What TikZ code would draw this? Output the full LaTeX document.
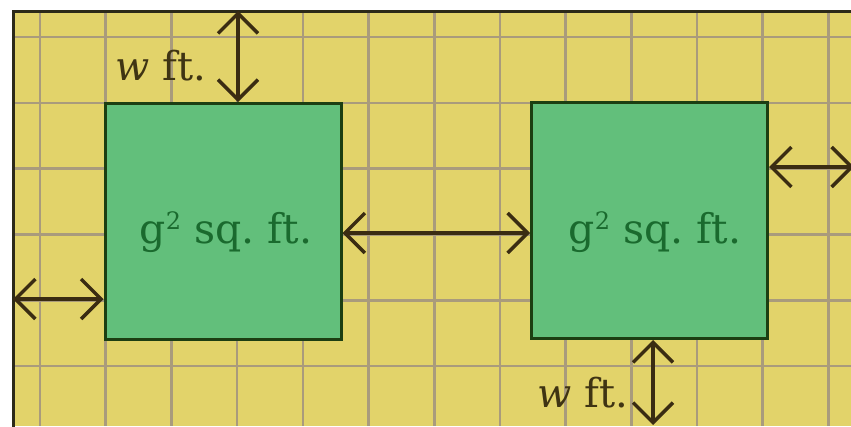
\documentclass[tikz,border=0pt]{standalone}
\usepackage{fontspec}
\setmainfont{DejaVu Serif}
\usetikzlibrary{arrows.meta}
\definecolor{paper}{HTML}{E2D36A}
\definecolor{gridc}{HTML}{A99B7C}
\definecolor{plot}{HTML}{62BF7B}
\definecolor{plotedge}{HTML}{1C3E12}
\definecolor{ink}{HTML}{3A2C12}
\definecolor{frame}{HTML}{2C2A18}
\definecolor{txtg}{HTML}{1A6A2E}
\definecolor{txtw}{HTML}{3F3413}
\newcommand{\sqtwo}{\raisebox{0.62ex}{\fontsize{24}{24}\selectfont 2}}
\begin{document}
\frenchspacing
\begin{tikzpicture}[x=1pt,y=-1pt,
  gridline/.style={gridc,line width=2.6pt},
  plotbox/.style={draw=plotedge,fill=plot,line width=3pt,minimum width=236pt,minimum height=236pt,inner sep=0pt},
  dim/.style={ink,line width=3.5pt,{Straight Barb[length=20pt,width=40pt]}-{Straight Barb[length=20pt,width=40pt]}},
  areatext/.style={font=\fontsize{41}{44}\selectfont,text=txtg,anchor=base,inner sep=0pt},
  wlabel/.style={font=\fontsize{40}{44}\selectfont,text=txtw,anchor=base,inner sep=0pt},
]
\useasboundingbox (0,0) rectangle (851,426);
\fill[white] (0,0) rectangle (851,426);
\fill[paper] (13,11) rectangle (851,426);
\foreach \i in {0,...,12} \draw[gridline] ({40+65.7*\i},11) -- ({40+65.7*\i},426);
\foreach \j in {0,...,5} \draw[gridline] (13,{37+65.8*\j}) -- (851,{37+65.8*\j});
\draw[frame,line width=3pt] (13,428) -- (13,11) -- (853,11);
\node[plotbox] (box1) at (223,221.5) {};
\node[plotbox] (box2) at (649.5,220.5) {};
\node[areatext] (a1) at (226,243) {g\sqtwo\ sq. ft.};
\node[areatext] (a2) at (655,243) {g\sqtwo\ sq. ft.};
\node[wlabel] (w1) at (161,80) {\textit{w} ft.};
\node[wlabel] (w2) at (583,407) {\textit{w} ft.};
\coordinate (topB) at (238,11);
\coordinate (leftB) at (13,299);
\coordinate (rightE) at (854,167);
\coordinate (botE) at (653,425);
\draw[dim] (topB) -- (topB |- box1.north);
\draw[dim] (leftB) -- (leftB -| box1.west);
\draw[dim] (box1.east |- 0,233) -- (box2.west |- 0,233);
\draw[dim] (box2.east |- rightE) -- (rightE);
\draw[dim] (box2.south -| botE) -- (botE);
\end{tikzpicture}
\end{document}
